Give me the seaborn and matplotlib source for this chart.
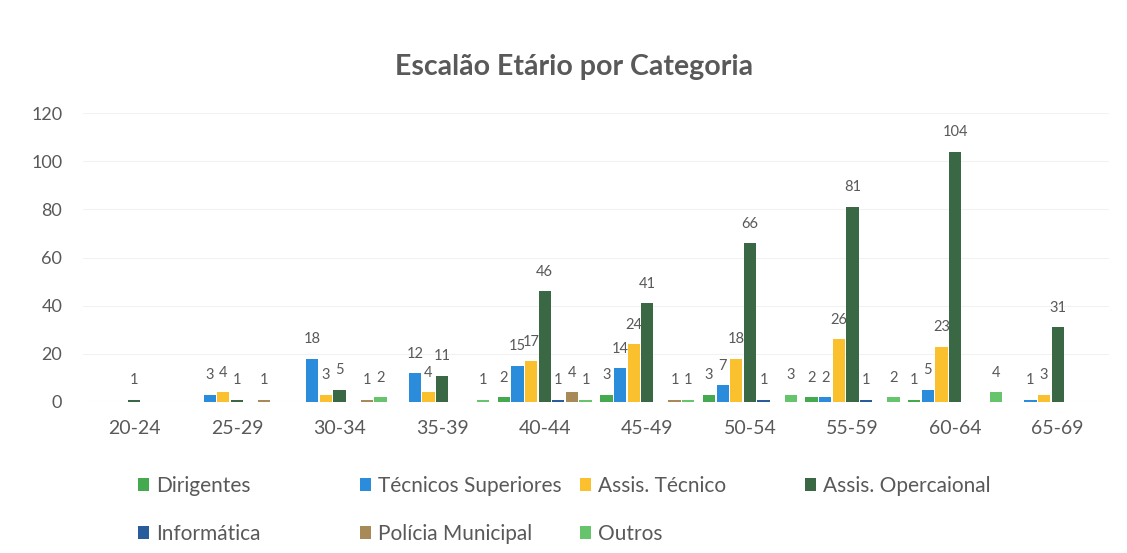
import numpy as np
import pandas as pd
import matplotlib
matplotlib.use("Agg")
import matplotlib.pyplot as plt
import seaborn as sns

# ---- data ----
escaloes = ["20-24", "25-29", "30-34", "35-39", "40-44",
            "45-49", "50-54", "55-59", "60-64", "65-69"]
categorias = ["Dirigentes", "Técnicos Superiores", "Assis. Técnico",
              "Assis. Opercaional", "Informática", "Polícia Municipal", "Outros"]
dirigentes = [0, 0, 0, 0, 2, 3, 3, 2, 1, 0]
tecnicos_superiores = [0, 3, 18, 12, 15, 14, 7, 2, 5, 1]
assis_tecnico = [0, 4, 3, 4, 17, 24, 18, 26, 23, 3]
assis_operacional = [1, 1, 5, 11, 46, 41, 66, 81, 104, 31]
informatica = [0, 0, 0, 0, 1, 0, 1, 1, 0, 0]
policia_municipal = [0, 1, 1, 0, 4, 1, 0, 0, 0, 0]
outros = [0, 0, 2, 1, 1, 1, 3, 2, 4, 0]
y_ticks = [0, 20, 40, 60, 80, 100, 120]

series = [dirigentes, tecnicos_superiores, assis_tecnico, assis_operacional,
          informatica, policia_municipal, outros]
cores = ["#45A94F", "#2A8CDA", "#FBC02D", "#3A6744",
         "#285C9A", "#A88A58", "#66C46C"]

rows = []
for cat, vals in zip(categorias, series):
    for esc, v in zip(escaloes, vals):
        rows.append({"Escalão": esc, "Categoria": cat, "Valor": v})
df = pd.DataFrame(rows)

sns.set_style("white")
plt.rcParams["font.family"] = ["Lato", "DejaVu Sans"]
grey = "#595959"

fig = plt.figure(figsize=(11.27, 5.53), dpi=100)
ax = fig.add_axes([83 / 1127, 1 - 402 / 553, (1109 - 83) / 1127, (402 - 113) / 553])

sns.barplot(data=df, x="Escalão", y="Valor", hue="Categoria",
            order=escaloes, hue_order=categorias, palette=cores, saturation=1,
            width=0.93, gap=0.1, linewidth=0, ax=ax, legend=True)

for cont in ax.containers:
    labels = [f"{int(b.get_height())}" if b.get_height() > 0 else "" for b in cont]
    ax.bar_label(cont, labels=labels, padding=9, fontsize=10.5, color=grey)

ax.set_ylim(0, 120)
ax.set_yticks(y_ticks)
ax.set_xlim(-0.5, len(escaloes) - 0.5)
ax.set_xlabel("")
ax.set_ylabel("")
ax.tick_params(axis="x", length=0, pad=13, labelsize=14, labelcolor=grey)
ax.tick_params(axis="y", length=0, pad=15, labelsize=13, labelcolor=grey)
ax.grid(axis="y", color="#F2F2F2", linewidth=0.8)
ax.set_axisbelow(True)
for s in ax.spines.values():
    s.set_visible(False)

fig.text(574 / 1127, 1 - 67 / 553, "Escalão Etário por Categoria",
         ha="center", va="center", fontsize=20.5, fontweight="bold", color=grey)

handles, labels = ax.get_legend_handles_labels()
ax.get_legend().remove()
hmap = dict(zip(labels, handles))
cols = [(["Dirigentes", "Informática"], 138),
        (["Técnicos Superiores", "Polícia Municipal"], 360),
        (["Assis. Técnico", "Outros"], 580),
        (["Assis. Opercaional"], 805)]
for names, xpx in cols:
    leg = fig.legend([hmap[n] for n in names], names, loc="upper left",
                     bbox_to_anchor=(xpx / 1127, 1 - 476 / 553),
                     frameon=False, fontsize=15, handlelength=0.55, handleheight=0.55,
                     handletextpad=0.3, labelspacing=1.35, borderpad=0, borderaxespad=0)
    for t in leg.get_texts():
        t.set_color(grey)

fig.savefig("out.png", dpi=100, facecolor="white")
